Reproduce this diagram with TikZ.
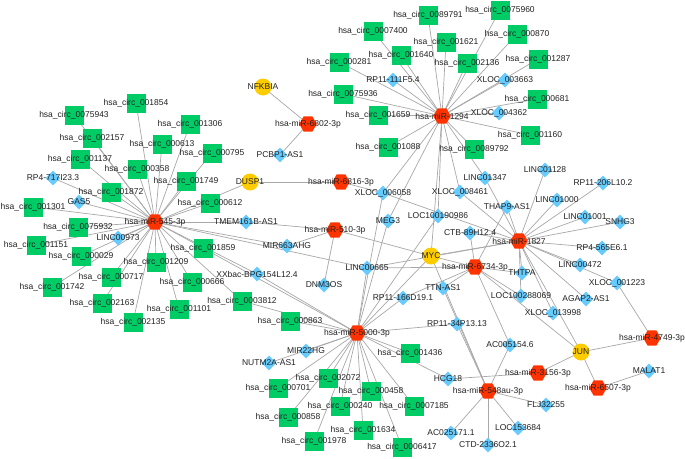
\documentclass[tikz,border=0pt]{standalone}
\usepackage{fontspec}
\setmainfont{Liberation Sans}
\usetikzlibrary{shapes.geometric}
\definecolor{circg}{HTML}{00CC66}
\definecolor{lncb}{HTML}{66CCFF}
\definecolor{mirr}{HTML}{FF3300}
\definecolor{geny}{HTML}{FFCC00}
\definecolor{edgeg}{HTML}{A8A8A8}
\definecolor{txt}{HTML}{222222}
\pgfdeclarelayer{edgelayer}
\pgfdeclarelayer{bglayer}
\pgfsetlayers{bglayer,edgelayer,main}
\newcommand\cirnode[2]{\node[cirsty,label={[lbl]center:hsa\_circ\_#1}] (c#1) at (#2) {};}
\newcommand\lncnode[3]{\node[lncsty,label={[lbl]center:#3}] (#1) at (#2) {};}
\newcommand\mirnode[3]{\node[mirsty,label={[lbl]center:hsa-miR-#3}] (#1) at (#2) {};}
\newcommand\gennode[2]{\node[gensty,label={[lbl]center:#1}] (#1) at (#2) {};}
\tikzset{
  cirsty/.style={rectangle,fill=circg,minimum size=19pt,inner sep=0pt},
  lncsty/.style={diamond,fill=lncb,minimum width=15pt,minimum height=15pt,inner sep=0pt},
  mirsty/.style={regular polygon,regular polygon sides=6,fill=mirr,minimum size=17.5pt,inner sep=0pt},
  gensty/.style={circle,fill=geny,minimum size=17pt,inner sep=0pt},
  lbl/.style={font=\fontsize{8.5}{10}\selectfont,text=txt,inner sep=0pt},
  lnk/.style={draw=edgeg,line width=0.7pt}
}
\begin{document}
\begin{tikzpicture}[x=1pt,y=-1pt]
\begin{pgfonlayer}{bglayer}
\fill[white] (0,0) rectangle (685,458);
\end{pgfonlayer}
\useasboundingbox (0,0) rectangle (685,458);
% circRNAs
\cirnode{0089791}{428,15}
\cirnode{0075960}{500,10}
\cirnode{0007400}{373,31}
\cirnode{001621}{446,42}
\cirnode{000870}{517,34}
\cirnode{000281}{339,62}
\cirnode{001640}{401,55}
\cirnode{002136}{467,63}
\cirnode{001287}{538,59}
\cirnode{0075936}{343,94}
\cirnode{000681}{537,99}
\cirnode{001659}{378,115}
\cirnode{001160}{530,135}
\cirnode{001088}{388,147}
\cirnode{0089792}{474,149}
\cirnode{001854}{136,103}
\cirnode{0075943}{74,115}
\cirnode{001306}{190,124}
\cirnode{002157}{92,138}
\cirnode{000613}{162,144}
\cirnode{000795}{212,153}
\cirnode{001137}{80,159}
\cirnode{000358}{137,169}
\cirnode{001749}{186,181}
\cirnode{001872}{111,192}
\cirnode{000612}{210,203}
\cirnode{001301}{33,207}
\cirnode{0075932}{78,227}
\cirnode{001151}{36,245}
\cirnode{001859}{203,248}
\cirnode{000029}{81,256}
\cirnode{001209}{156,262}
\cirnode{000717}{111,277}
\cirnode{000666}{192,282}
\cirnode{001742}{52,287}
\cirnode{002163}{102,303}
\cirnode{0003812}{242,301}
\cirnode{001101}{179,309}
\cirnode{002135}{133,322}
\cirnode{000863}{290,321}
\cirnode{001436}{410,353}
\cirnode{002072}{328,378}
\cirnode{000701}{278,388}
\cirnode{000458}{371,391}
\cirnode{000240}{340,406}
\cirnode{0007185}{414,406}
\cirnode{000858}{288,417}
\cirnode{001634}{363,430}
\cirnode{001978}{314,441}
\cirnode{0006417}{402,447}
% lncRNAs
\lncnode{rpa}{393,80}{RP11-111F5.4}
\lncnode{xa}{505,80}{XLOC\_003663}
\lncnode{xb}{499,113}{XLOC\_004362}
\lncnode{pcbp}{280,155}{PCBP1-AS1}
\lncnode{rpf}{53,178}{RP4-717I23.3}
\lncnode{gas}{79,202}{GAS5}
\lncnode{lna}{118,238}{LINC00973}
\lncnode{tmem}{246,222}{TMEM161B-AS1}
\lncnode{mirh}{287,246}{MIR663AHG}
\lncnode{xxbac}{257,274}{XXbac-BPG154L12.4}
\lncnode{dnm}{324,285}{DNM3OS}
\lncnode{xc}{383,193}{XLOC\_006058}
\lncnode{xd}{460,192}{XLOC\_008461}
\lncnode{lnb}{485,178}{LINC01347}
\lncnode{thap}{507,207}{THAP9-AS1}
\lncnode{meg}{388,221}{MEG3}
\lncnode{loca}{438,216}{LOC100190986}
\lncnode{ctb}{470,233}{CTB-89H12.4}
\lncnode{lnc}{367,268}{LINC00665}
\lncnode{thtpa}{522,273}{THTPA}
\lncnode{ttn}{443,288}{TTN-AS1}
\lncnode{rpb}{403,298}{RP11-166D19.1}
\lncnode{locb}{521,296}{LOC100288069}
\lncnode{lnd}{545,170}{LINC01128}
\lncnode{rpc}{603,183}{RP11-206L10.2}
\lncnode{lne}{557,200}{LINC01000}
\lncnode{lnf}{585,217}{LINC01001}
\lncnode{snhg}{620,222}{SNHG3}
\lncnode{rpg}{602,248}{RP4-565E6.1}
\lncnode{lng}{580,265}{LINC00472}
\lncnode{xe}{617,283}{XLOC\_001223}
\lncnode{agap}{586,299}{AGAP2-AS1}
\lncnode{xf}{553,313}{XLOC\_013998}
\lncnode{rpd}{457,324}{RP11-34P13.13}
\lncnode{aca}{510,345}{AC005154.6}
\lncnode{hcg}{448,379}{HCG18}
\lncnode{mirg}{306,351}{MIR22HG}
\lncnode{nutm}{269,363}{NUTM2A-AS1}
\lncnode{malat}{649,371}{MALAT1}
\lncnode{flj}{546,405}{FLJ32255}
\lncnode{locc}{518,428}{LOC153684}
\lncnode{acb}{451,433}{AC025171.1}
\lncnode{ctd}{488,445}{CTD-2336O2.1}
% miRNAs
\mirnode{ma}{308,124}{6802-3p}
\mirnode{mb}{442,116}{1294}
\mirnode{mc}{155,222}{545-3p}
\mirnode{md}{341,182}{6816-3p}
\mirnode{me}{335,230}{510-3p}
\mirnode{mf}{519,241}{1827}
\mirnode{mg}{475,267}{6734-3p}
\mirnode{mh}{357,333}{5000-3p}
\mirnode{mi}{488,391}{548au-3p}
\mirnode{mj}{538,373}{3156-3p}
\mirnode{mk}{598,388}{6507-3p}
\mirnode{ml}{652,338}{4749-3p}
% mRNAs
\gennode{NFKBIA}{263,87}
\gennode{DUSP1}{250,182}
\gennode{MYC}{431,256}
\gennode{JUN}{581,352}
% connectors
\begin{pgfonlayer}{edgelayer}
\foreach \t in {NFKBIA,pcbp} \draw[lnk] (ma.center) -- (\t.center);
\foreach \t in {DUSP1,xc} \draw[lnk] (md.center) -- (\t.center);
\foreach \t in {c001854,c0075943,c002157,c001137,c000358,c001306,c000613,c000795,c001749,c000612,DUSP1,rpf,c001872,gas,c001301,c0075932,lna,c001151,c000029,c001742,c000717,c002163,c002135,c001209,c001101,c000666,c001859,tmem,mirh,xxbac,c0003812,lnc}
  \draw[lnk] (mc.center) -- (\t.center);
\foreach \t in {tmem,mirh,dnm,MYC} \draw[lnk] (me.center) -- (\t.center);
\foreach \t in {c0089791,c0075960,c0007400,c001621,c001640,c002136,c000870,c001287,xa,c000681,xb,c001160,c000281,rpa,c0075936,c001659,c001088,c0089792,xc,meg,MYC,xd,lnb,loca}
  \draw[lnk] (mb.center) -- (\t.center);
\foreach \t in {lnd,rpc,lne,lnf,snhg,rpg,lng,xe,agap,xf,thtpa,locb,thap,ctb,lnb,xc,lnc,MYC,xd,JUN}
  \draw[lnk] (mf.center) -- (\t.center);
\foreach \t in {MYC,lnc,ctb,thtpa,locb,ttn,rpb,aca,JUN,thap}
  \draw[lnk] (mg.center) -- (\t.center);
\foreach \t in {c000863,c0003812,xxbac,c001859,mirg,nutm,c000701,c002072,c000858,c000240,c001978,c000458,c001634,c0006417,c0007185,c001436,hcg,rpd,MYC,xc,meg,lnc,rpb,loca}
  \draw[lnk] (mh.center) -- (\t.center);
\foreach \t in {rpd,ttn,MYC,aca,flj,locc,ctd,acb}
  \draw[lnk] (mi.center) -- (\t.center);
\foreach \t in {JUN,hcg} \draw[lnk] (mj.center) -- (\t.center);
\foreach \t in {JUN,malat} \draw[lnk] (mk.center) -- (\t.center);
\foreach \t in {JUN,xe} \draw[lnk] (ml.center) -- (\t.center);
\end{pgfonlayer}
\end{tikzpicture}
\end{document}
